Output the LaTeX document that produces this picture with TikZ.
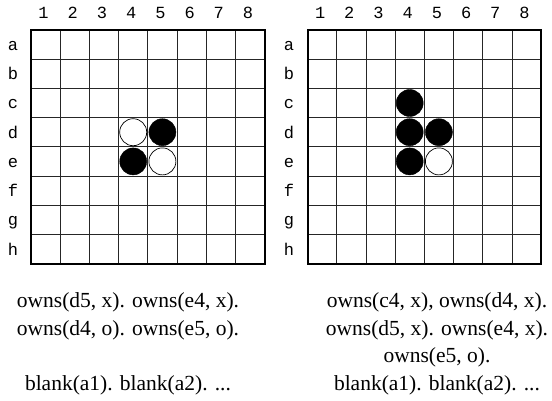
\documentclass[tikz,border=0pt]{standalone}
\usepackage{fontspec}
\setmainfont{Liberation Serif}
\newfontfamily\boardfont{Liberation Mono}
\begin{document}
\begin{tikzpicture}[x=1pt,y=-1pt,
  gridline/.style={draw=black!85,line width=0.8pt},
  frame/.style={draw=black,line width=2pt},
  lbl/.style={font=\boardfont\fontsize{17}{17}\selectfont,inner sep=0pt,anchor=base},
  blackpiece/.style={circle,fill=black,draw=black,minimum size=27pt,inner sep=0pt},
  whitepiece/.style={circle,fill=white,draw=black,line width=0.7pt,minimum size=27pt,inner sep=0pt},
  fact/.style={font=\fontsize{21.5}{21.5}\selectfont,inner sep=0pt,anchor=base}]
\useasboundingbox (0,0) rectangle (552,401);
\def\cell{29.2}
% boards
\foreach \bx/\lx/\nm in {31/13/L,307.5/289/R}{
  \foreach \i in {1,...,7}{
    \draw[gridline] (\bx+\i*\cell,30) -- (\bx+\i*\cell,30+8*\cell);
    \draw[gridline] (\bx,30+\i*\cell) -- (\bx+8*\cell,30+\i*\cell);
  }
  \draw[frame] (\bx,30) rectangle (\bx+8*\cell,30+8*\cell);
  \foreach \c in {1,...,8}{
    \node[lbl] (\nm-col\c) at (\bx+\c*\cell-0.5*\cell-2,19) {\c};
  }
  \foreach \r [count=\k] in {a,b,c,d,e,f,g,h}{
    \node[lbl] (\nm-row\r) at (\lx,30+\k*\cell-0.5*\cell+6) {\r};
  }
}
% pieces, left board
\node[whitepiece] (L-d4) at (31+3.5*\cell,30+3.5*\cell) {};
\node[blackpiece] (L-d5) at (31+4.5*\cell,30+3.5*\cell) {};
\node[blackpiece] (L-e4) at (31+3.5*\cell,30+4.5*\cell) {};
\node[whitepiece] (L-e5) at (31+4.5*\cell,30+4.5*\cell) {};
% pieces, right board
\node[blackpiece] (R-c4) at (307.5+3.5*\cell,30+2.5*\cell) {};
\node[blackpiece] (R-d4) at (307.5+3.5*\cell,30+3.5*\cell) {};
\node[blackpiece] (R-d5) at (307.5+4.5*\cell,30+3.5*\cell) {};
\node[blackpiece] (R-e4) at (307.5+3.5*\cell,30+4.5*\cell) {};
\node[whitepiece] (R-e5) at (307.5+4.5*\cell,30+4.5*\cell) {};
% facts
\node[fact] (L1) at (128,307) {owns(d5, x). owns(e4, x).};
\node[fact] (L2) at (128,335) {owns(d4, o). owns(e5, o).};
\node[fact] (L3) at (128,390) {blank(a1). blank(a2). ...};
\node[fact] (R1) at (437,307) {owns(c4, x), owns(d4, x).};
\node[fact] (R2) at (437,335) {owns(d5, x). owns(e4, x).};
\node[fact] (R3) at (437,362) {owns(e5, o).};
\node[fact] (R4) at (437,390) {blank(a1). blank(a2). ...};
\end{tikzpicture}
\end{document}
